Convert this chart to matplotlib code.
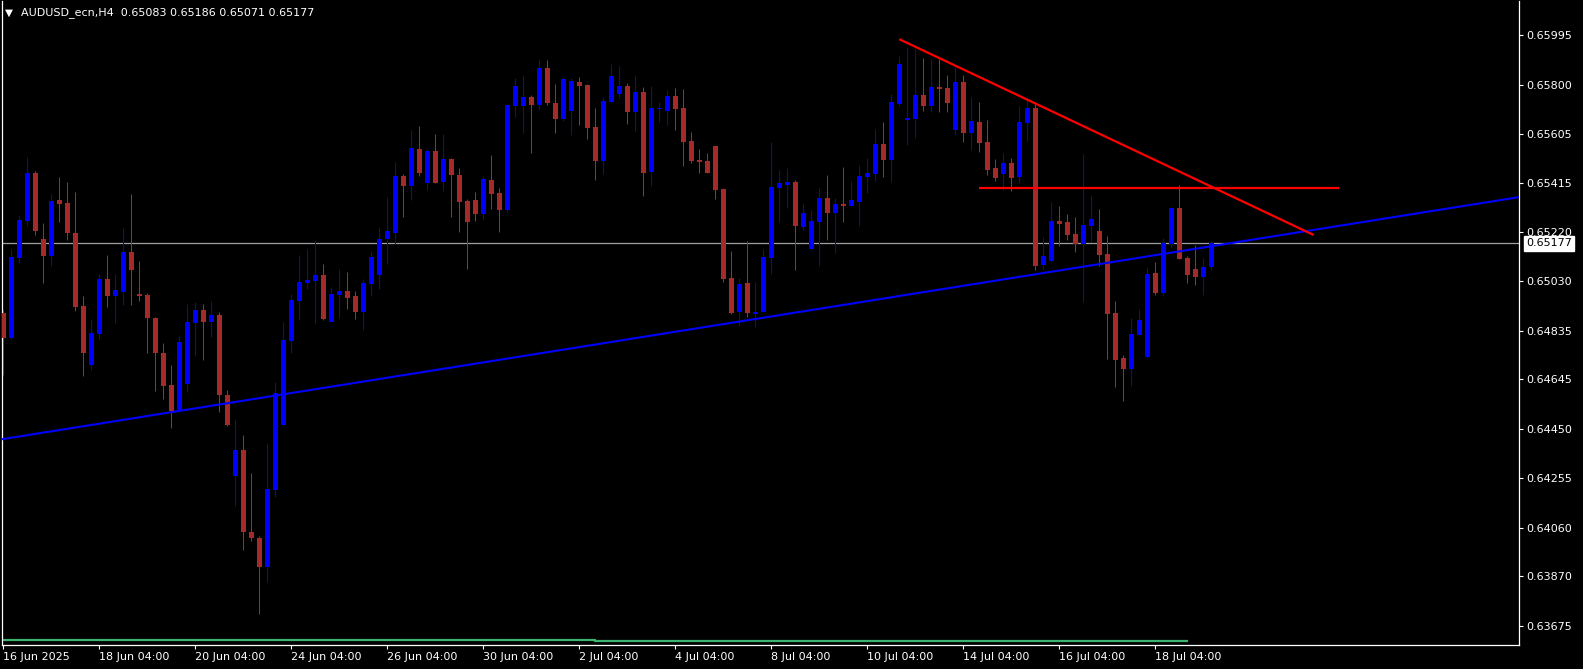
import matplotlib
matplotlib.use("Agg")
import matplotlib.pyplot as plt
import matplotlib.transforms as mtransforms
import numpy as np

# H4 bars, index 0 = 16 Jun 04:00 (first visible bar)
opens = [
    0.64904, 0.64807, 0.65121, 0.65265, 0.65453, 0.65195, 0.65129, 0.65348, 0.65336, 0.65218,
    0.64931, 0.64700, 0.64823, 0.65038, 0.64972, 0.64987, 0.65144, 0.64979, 0.64975, 0.64885,
    0.64747, 0.64621, 0.64523, 0.64626, 0.64865, 0.64916, 0.64869, 0.64896, 0.64582, 0.64264,
    0.64367, 0.64043, 0.64021, 0.63907, 0.64210, 0.64464, 0.64794, 0.64951, 0.65022, 0.65030,
    0.65053, 0.64868, 0.64975, 0.64990, 0.64971, 0.64908, 0.65018, 0.65053, 0.65195, 0.65218,
    0.65441, 0.65402, 0.65547, 0.65414, 0.65540, 0.65418, 0.65508, 0.65445, 0.65344, 0.65348,
    0.65293, 0.65426, 0.65375, 0.65309, 0.65716, 0.65716, 0.65752, 0.65720, 0.65866, 0.65728,
    0.65665, 0.65697, 0.65811, 0.65799, 0.65634, 0.65500, 0.65732, 0.65764, 0.65795, 0.65693,
    0.65772, 0.65457, 0.65705, 0.65697, 0.65756, 0.65709, 0.65579, 0.65504, 0.65500, 0.65559,
    0.65390, 0.65041, 0.64908, 0.65022, 0.64900, 0.64908, 0.65120, 0.65394, 0.65406, 0.65418,
    0.65242, 0.65155, 0.65262, 0.65356, 0.65297, 0.65332, 0.65324, 0.65340, 0.65437, 0.65449,
    0.65567, 0.65504, 0.65724, 0.65661, 0.65665, 0.65760, 0.65716, 0.65791, 0.65787, 0.65622,
    0.65811, 0.65610, 0.65653, 0.65575, 0.65473, 0.65449, 0.65492, 0.65437, 0.65650, 0.65709,
    0.65092, 0.65108, 0.65265, 0.65262, 0.65214, 0.65175, 0.65246, 0.65226, 0.65136, 0.64904,
    0.64727, 0.64684, 0.64818, 0.64732, 0.65061, 0.64983, 0.65175, 0.65316, 0.65120, 0.65077,
    0.65045, 0.65083,
]
highs = [
    0.64915, 0.65155, 0.65285, 0.65517, 0.65461, 0.65258, 0.65371, 0.65437, 0.65418, 0.65378,
    0.64971, 0.64880, 0.65057, 0.65132, 0.65057, 0.65238, 0.65371, 0.65108, 0.64983, 0.64888,
    0.64787, 0.64700, 0.64814, 0.64939, 0.64947, 0.64939, 0.64951, 0.64908, 0.64601, 0.64487,
    0.64424, 0.64275, 0.64029, 0.64393, 0.64633, 0.64869, 0.64979, 0.65132, 0.65155, 0.65191,
    0.65096, 0.65006, 0.65076, 0.65065, 0.64990, 0.65038, 0.65148, 0.65242, 0.65359, 0.65496,
    0.65449, 0.65622, 0.65637, 0.65547, 0.65606, 0.65606, 0.65512, 0.65473, 0.65351, 0.65378,
    0.65441, 0.65524, 0.65394, 0.65724, 0.65826, 0.65838, 0.65760, 0.65901, 0.65897, 0.65803,
    0.65831, 0.65826, 0.65831, 0.65803, 0.65709, 0.65748, 0.65882, 0.65874, 0.65807, 0.65838,
    0.65791, 0.65795, 0.65732, 0.65780, 0.65787, 0.65783, 0.65614, 0.65547, 0.65532, 0.65559,
    0.65390, 0.65148, 0.65041, 0.65187, 0.65026, 0.65155, 0.65575, 0.65465, 0.65473, 0.65426,
    0.65336, 0.65309, 0.65394, 0.65445, 0.65356, 0.65477, 0.65422, 0.65485, 0.65512, 0.65626,
    0.65653, 0.65764, 0.65913, 0.65948, 0.65940, 0.65905, 0.65901, 0.65901, 0.65838, 0.65870,
    0.65838, 0.65752, 0.65732, 0.65661, 0.65508, 0.65532, 0.65512, 0.65716, 0.65752, 0.65724,
    0.65202, 0.65340, 0.65324, 0.65293, 0.65281, 0.65528, 0.65367, 0.65313, 0.65206, 0.64951,
    0.64739, 0.64884, 0.64920, 0.65085, 0.65104, 0.65199, 0.65320, 0.65406, 0.65128, 0.65171,
    0.65120, 0.65186,
]
lows = [
    0.64660, 0.64800, 0.65102, 0.65247, 0.65212, 0.65023, 0.65090, 0.65263, 0.65192, 0.64913,
    0.64657, 0.64681, 0.64803, 0.64929, 0.64866, 0.64937, 0.64937, 0.64952, 0.64748, 0.64599,
    0.64567, 0.64453, 0.64516, 0.64595, 0.64736, 0.64720, 0.64810, 0.64516, 0.64460, 0.64147,
    0.63974, 0.64009, 0.63723, 0.63848, 0.64183, 0.64464, 0.64747, 0.64876, 0.64998, 0.64861,
    0.64876, 0.64868, 0.64884, 0.64920, 0.64880, 0.64837, 0.64971, 0.64998, 0.65096, 0.65175,
    0.65281, 0.65348, 0.65441, 0.65386, 0.65414, 0.65382, 0.65281, 0.65222, 0.65076, 0.65265,
    0.65269, 0.65313, 0.65222, 0.65301, 0.65673, 0.65610, 0.65532, 0.65701, 0.65720, 0.65610,
    0.65657, 0.65602, 0.65642, 0.65587, 0.65426, 0.65449, 0.65732, 0.65748, 0.65646, 0.65618,
    0.65363, 0.65402, 0.65654, 0.65642, 0.65622, 0.65481, 0.65492, 0.65453, 0.65453, 0.65351,
    0.65026, 0.64900, 0.64853, 0.64888, 0.64849, 0.64908, 0.65057, 0.65262, 0.65316, 0.65073,
    0.65230, 0.65155, 0.65088, 0.65191, 0.65140, 0.65262, 0.65324, 0.65246, 0.65375, 0.65422,
    0.65437, 0.65418, 0.65716, 0.65563, 0.65591, 0.65697, 0.65693, 0.65693, 0.65693, 0.65606,
    0.65575, 0.65543, 0.65535, 0.65445, 0.65422, 0.65386, 0.65382, 0.65414, 0.65579, 0.65073,
    0.65076, 0.65108, 0.65167, 0.65191, 0.65144, 0.64947, 0.65183, 0.65088, 0.64723, 0.64613,
    0.64558, 0.64617, 0.64818, 0.64732, 0.64975, 0.64971, 0.65159, 0.65116, 0.65022, 0.65014,
    0.64975, 0.65071,
]
closes = [
    0.64807, 0.65124, 0.65269, 0.65453, 0.65227, 0.65129, 0.65344, 0.65333, 0.65216, 0.64929,
    0.64748, 0.64825, 0.65038, 0.64972, 0.64994, 0.65144, 0.65074, 0.64972, 0.64885, 0.64748,
    0.64618, 0.64520, 0.64790, 0.64869, 0.64916, 0.64869, 0.64896, 0.64582, 0.64464, 0.64367,
    0.64044, 0.64021, 0.63907, 0.64212, 0.64589, 0.64798, 0.64955, 0.65026, 0.65034, 0.65053,
    0.64880, 0.64979, 0.64990, 0.64963, 0.64908, 0.65022, 0.65124, 0.65195, 0.65226, 0.65441,
    0.65402, 0.65551, 0.65453, 0.65540, 0.65414, 0.65508, 0.65445, 0.65340, 0.65262, 0.65293,
    0.65430, 0.65371, 0.65309, 0.65720, 0.65795, 0.65752, 0.65720, 0.65866, 0.65728, 0.65665,
    0.65823, 0.65815, 0.65795, 0.65630, 0.65500, 0.65736, 0.65835, 0.65795, 0.65693, 0.65772,
    0.65453, 0.65709, 0.65709, 0.65756, 0.65705, 0.65575, 0.65500, 0.65496, 0.65453, 0.65386,
    0.65038, 0.64904, 0.65018, 0.64904, 0.64908, 0.65124, 0.65398, 0.65414, 0.65418, 0.65246,
    0.65297, 0.65265, 0.65356, 0.65297, 0.65332, 0.65324, 0.65348, 0.65441, 0.65453, 0.65567,
    0.65504, 0.65732, 0.65882, 0.65669, 0.65760, 0.65716, 0.65791, 0.65783, 0.65728, 0.65811,
    0.65610, 0.65657, 0.65571, 0.65465, 0.65433, 0.65492, 0.65433, 0.65653, 0.65709, 0.65088,
    0.65128, 0.65265, 0.65254, 0.65210, 0.65175, 0.65250, 0.65273, 0.65132, 0.64900, 0.64719,
    0.64684, 0.64822, 0.64876, 0.65057, 0.64983, 0.65179, 0.65316, 0.65116, 0.65053, 0.65045,
    0.65085, 0.65177,
]

# bottom indicator line (two levels, step at bar 74, ends at bar 148)
ind_levels = [0.63621, 0.63617]
ind_step = 74
ind_end = 148

# trend lines: (bar index, price)
blue_line = [(0, 0.64409), (150, 0.65161)]
red_trend = [(112.0, 0.65979), (163.8, 0.65210)]
red_level = [(122.0, 0.65395), (167.0, 0.65395)]
bid = 0.65177

ytick_vals = [0.65995, 0.65800, 0.65605, 0.65415, 0.65220, 0.65030, 0.64835,
              0.64645, 0.64450, 0.64255, 0.64060, 0.63870, 0.63675]
xtick_bars = [0, 12, 24, 36, 48, 60, 72, 84, 96, 108, 120, 132, 144]
xtick_labels = ["16 Jun 2025", "18 Jun 04:00", "20 Jun 04:00", "24 Jun 04:00",
                "26 Jun 04:00", "30 Jun 04:00", "2 Jul 04:00", "4 Jul 04:00",
                "8 Jul 04:00", "10 Jul 04:00", "14 Jul 04:00", "16 Jul 04:00",
                "18 Jul 04:00"]

BULL = "#0000ff"
BEAR = "#a52a2a"
W, H = 1583, 669

fig = plt.figure(figsize=(W / 100, H / 100), dpi=100, facecolor="black")
# plot frame in pixels: x 2..1519, y 1..645 (from top)
ax = fig.add_axes([2 / W, (H - 645) / H, 1517 / W, 644 / H], facecolor="black")
ax.set_xlim((2 - 3.3) / 8, (1519 - 3.3) / 8)
ax.set_ylim(0.63600, 0.66129)

o = np.array(opens)
hi = np.array(highs)
lo = np.array(lows)
c = np.array(closes)
x = np.arange(len(o))
cols = np.where(c >= o, BULL, BEAR)

ax.vlines(x, lo, hi, colors=cols, linewidth=0.75, zorder=3)
body = np.maximum(np.abs(c - o), 0.00004)
ax.bar(x, body, bottom=np.minimum(o, c), width=0.62, color=cols,
       linewidth=0, zorder=4)

# indicator at the bottom
ind = np.where(np.arange(ind_end + 1) < ind_step, ind_levels[0], ind_levels[1])
ax.step(np.arange(-1, ind_end + 1), np.r_[ind[0], ind], where="post",
        color="#3cb371", linewidth=1.6, zorder=2)

ax.axhline(bid, color="#a0a0a0", linewidth=0.9, zorder=1)
ax.axline(blue_line[0], blue_line[1], color="#0000ff", linewidth=1.5, zorder=5)
ax.plot([p[0] for p in red_trend], [p[1] for p in red_trend], color="#ff0000",
        linewidth=1.6, zorder=5, solid_capstyle="butt")
ax.plot([p[0] for p in red_level], [p[1] for p in red_level], color="#ff0000",
        linewidth=1.6, zorder=5, solid_capstyle="butt")

for side in ["left", "bottom", "right"]:
    ax.spines[side].set_color("white")
    ax.spines[side].set_linewidth(0.9)
ax.spines["top"].set_visible(False)

ax.yaxis.tick_right()
ax.set_yticks(ytick_vals)
ax.set_yticklabels([f"{v:.5f}" for v in ytick_vals])
ax.tick_params(axis="y", colors="white", labelsize=8, length=3, width=0.8, pad=2)
ax.set_xticks(xtick_bars)
ax.set_xticklabels(xtick_labels, ha="left")
ax.tick_params(axis="x", colors="white", labelsize=8, length=3, width=0.8, pad=2)

# current price label on the price scale
tr = mtransforms.blended_transform_factory(ax.transAxes, ax.transData)
ax.text(1.0 + 7 / 1517, bid, f"{bid:.5f}", transform=tr, color="black", fontsize=8,
        va="center", ha="left", zorder=10, clip_on=False,
        bbox=dict(boxstyle="square,pad=0.2", fc="white", ec="white"))

fig.text(5 / W, 1 - 12.5 / H, "\u25bc", color="white", fontsize=7.5, va="center", ha="left")
fig.text(21 / W, 1 - 12.5 / H, "AUDUSD_ecn,H4  0.65083 0.65186 0.65071 0.65177",
         color="white", fontsize=8, va="center", ha="left")

fig.savefig("out.png", dpi=100, facecolor="black")
